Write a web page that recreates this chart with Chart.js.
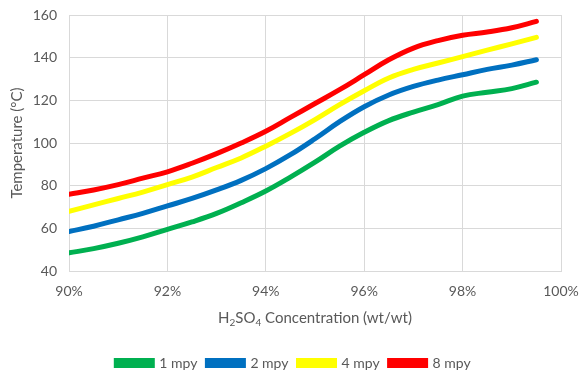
<!DOCTYPE html>
<html>
<head>
<meta charset="utf-8">
<script src="https://cdn.jsdelivr.net/npm/chart.js@4"></script>
<style>
  html, body { margin: 0; padding: 0; background: #fff; }
  #wrap { width: 579px; height: 374px; }
</style>
</head>
<body>
<div id="wrap"><canvas id="chart" width="579" height="374"></canvas></div>
<script>
// concentration (%) and temperature (°C)
const concentration = [90, 90.5, 91, 91.5, 92, 92.5, 93, 93.5, 94, 94.5, 95, 95.5, 96, 96.5, 97, 97.5, 98, 98.5, 99, 99.5];
const temp1mpy = [48.5, 50.5, 53, 56, 59.5, 63, 67, 72, 77.5, 84, 91, 98.5, 105, 110.5, 114.5, 118, 122, 123.8, 125.5, 128.5];
const temp2mpy = [58.5, 61, 64, 67, 70.5, 74, 78, 82.5, 88, 94.5, 102, 110, 117, 122.5, 126.5, 129.5, 132, 134.5, 136.5, 139];
const temp4mpy = [68, 71, 74, 77, 80.5, 84, 88.5, 93, 98.5, 104.5, 111, 118, 124.5, 130.5, 134.5, 137.5, 140.5, 143.5, 146.5, 149.5];
const temp8mpy = [76, 78, 80.5, 83.5, 86.5, 90.5, 95, 100, 105.5, 112, 118.5, 125, 132, 139, 144.5, 148, 150.5, 152, 154, 157];
const seriesLabels = ['1 mpy', '2 mpy', '4 mpy', '8 mpy'];
const seriesColors = ['#00b050', '#0070c0', '#ffff00', '#ff0000'];

const FONT = 'Lato, "Open Sans", sans-serif';
const TEXT = '#595959';

function toPoints(ys) {
    return ys.map((y, i) => ({ x: concentration[i], y: y }));
}

// x-axis title with real subscripts
const xTitlePlugin = {
    id: 'xTitle',
    afterLayout(chart) {
        // legend sits a little right of centre in the original
        chart.legend.left += 9;
        chart.legend.right += 9;
    },
    afterDraw(chart) {
        const ctx = chart.ctx;
        const area = chart.chartArea;
        const parts = [['H', 0], ['2', 1], ['SO', 0], ['4', 1], [' Concentration (wt/wt)', 0]];
        const big = '15px ' + FONT;
        const small = '10px ' + FONT;
        ctx.save();
        ctx.fillStyle = TEXT;
        ctx.textBaseline = 'alphabetic';
        let total = 0;
        parts.forEach(p => { ctx.font = p[1] ? small : big; total += ctx.measureText(p[0]).width; });
        let x = (area.left + area.right) / 2 - total / 2;
        const y = area.bottom + 52;
        parts.forEach(p => {
            ctx.font = p[1] ? small : big;
            ctx.fillText(p[0], x, p[1] ? y + 3 : y);
            x += ctx.measureText(p[0]).width;
        });
        ctx.restore();
    }
};

new Chart(document.getElementById('chart'), {
    type: 'line',
    data: {
        datasets: [temp1mpy, temp2mpy, temp4mpy, temp8mpy].map((ys, i) => ({
            label: seriesLabels[i],
            data: toPoints(ys),
            borderColor: seriesColors[i],
            backgroundColor: seriesColors[i],
            borderWidth: 5,
            pointRadius: 0,
            tension: 0.4,
            borderCapStyle: 'round'
        }))
    },
    options: {
        responsive: false,
        animation: false,
        devicePixelRatio: 1,
        layout: { padding: { left: 8, right: 18, top: 15, bottom: -6 } },
        scales: {
            x: {
                type: 'linear',
                min: 90,
                max: 100,
                afterFit: s => { s.height = 75; s.paddingLeft = 0; s.paddingRight = 0; },
                ticks: {
                    stepSize: 2,
                    color: TEXT,
                    font: { family: FONT, size: 14 },
                    padding: 12,
                    callback: v => v + '%'
                },
                grid: { color: '#d9d9d9', tickLength: 0 },
                border: { color: '#d9d9d9' }
            },
            y: {
                min: 40,
                max: 160,
                afterFit: s => { s.width = 61; s.paddingTop = 0; s.paddingBottom = 0; },
                ticks: {
                    stepSize: 20,
                    color: TEXT,
                    font: { family: FONT, size: 14 },
                    padding: 12
                },
                grid: { color: '#d9d9d9', tickLength: 0 },
                border: { color: '#d9d9d9' },
                title: {
                    display: true,
                    text: 'Temperature (°C)',
                    color: TEXT,
                    font: { family: FONT, size: 15 },
                    padding: { top: 0, bottom: 4 }
                }
            }
        },
        plugins: {
            legend: {
                position: 'bottom',
                labels: {
                    color: TEXT,
                    font: { family: FONT, size: 14 },
                    boxWidth: 36,
                    boxHeight: 5,
                    padding: 10
                }
            },
            tooltip: { enabled: false }
        }
    },
    plugins: [xTitlePlugin]
});
</script>
</body>
</html>
